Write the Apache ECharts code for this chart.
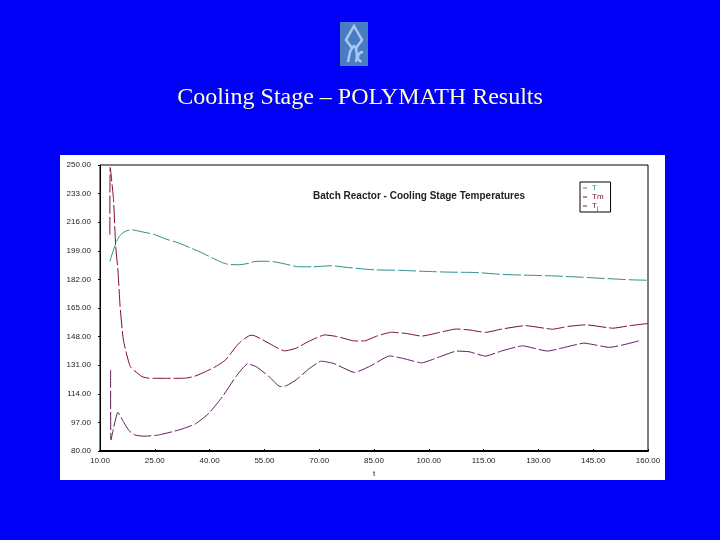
<!DOCTYPE html>
<html>
<head>
<meta charset="utf-8">
<script src="https://cdn.jsdelivr.net/npm/echarts@6/dist/echarts.min.js"></script>
<style>
html,body{margin:0;padding:0;background:#0000f6;}
#c{width:720px;height:540px;}
</style>
</head>
<body>
<div id="c"></div>
<script>
// ---- data ----
var xTicks = [10, 25, 40, 55, 70, 85, 100, 115, 130, 145, 160];
var yTicks = [80, 97, 114, 131, 148, 165, 182, 199, 216, 233, 250];

var tT = [12.7, 13.7, 15, 16.4, 18.5, 21, 25, 28, 31.6, 35, 38, 41, 44.4, 48, 50.5, 52.7, 55.5, 58.2, 61, 64.6, 68, 73.3, 78, 85.2, 92, 99.9, 106, 112.8, 118, 121.9, 127, 132.5, 140, 146, 151.3, 156, 160];
var T  = [192.7, 199.6, 206.6, 209.9, 211.5, 210.5, 208.6, 206, 203.6, 200.5, 197.7, 194.5, 191.3, 190.7, 191.5, 192.7, 192.8, 192.3, 191, 189.5, 189.5, 190.1, 189, 187.7, 187.4, 186.7, 186.3, 186.1, 185.3, 184.8, 184.5, 184.2, 183.5, 182.8, 182.2, 181.7, 181.5];

var tTm = [12.7, 12.8, 13.7, 14.3, 14.9, 15.5, 16.4, 18.3, 21.5, 23.3, 28, 33.4, 36, 38.9, 41.7, 44.4, 47.2, 48.5, 50.8, 51.8, 54.5, 57.5, 60.5, 63.7, 67, 71.5, 75, 79.7, 82.5, 86, 89.8, 94, 98, 103, 107.5, 111, 115.5, 120, 126.5, 133.9, 138, 143, 150.4, 155, 160];
var Tm  = [208.6, 248.5, 229.4, 201.6, 187.7, 165.9, 146, 130.2, 124.2, 123.3, 123.2, 123.3, 124.5, 127.2, 130.2, 134.2, 142, 145, 148.5, 148.8, 146.1, 142.5, 139.5, 141.1, 145, 149, 148, 145.4, 145.5, 148.5, 150.6, 149.8, 148.3, 150.5, 152.5, 152, 150.5, 152.5, 154.5, 152.4, 154, 155, 153, 154.5, 155.8];

var tTj = [12.9, 13.0, 14.9, 16.5, 18, 19.6, 22, 26, 31.6, 36.1, 39.8, 43.5, 47.2, 50.4, 52.7, 56.3, 59.3, 61, 63.7, 67, 70.6, 74, 79.7, 84, 89.3, 93, 98, 103, 107.7, 111, 115.5, 120, 125.6, 132.5, 137, 142.5, 149.5, 154, 157.7];
var Tj  = [128.2, 86.5, 103, 97, 92, 89.5, 88.8, 89.5, 92.5, 96.1, 102.4, 112.3, 124.2, 131.8, 130.2, 124.2, 118.3, 118.8, 122.3, 128.5, 133.4, 132, 126.7, 130.5, 136.5, 135, 132.4, 136, 139.4, 139, 136.4, 139.5, 142.5, 139.4, 141.5, 144.1, 141.6, 143.5, 145.6];

var seriesNames = ['T', 'Tm', 'Tj'];
var chartTitle = 'Batch Reactor - Cooling Stage Temperatures';
var pageTitle = 'Cooling Stage \u2013 POLYMATH Results';

function pairs(xs, ys) { return xs.map(function (x, i) { return [x, ys[i]]; }); }

var cT = '#2f8f8f', cTm = '#7a0a2a', cTj = '#5e1a5e';

var chart = echarts.init(document.getElementById('c'));
chart.setOption({
  backgroundColor: '#0000f6',
  animation: false,
  title: [
    { text: pageTitle, left: 'center', top: 81,
      textStyle: { fontFamily: 'Liberation Serif', fontWeight: 'normal', fontSize: 24, color: '#ffffc4' } },
    { text: chartTitle, left: 308, top: 186,
      textStyle: { fontFamily: 'Liberation Sans', fontWeight: 'bold', fontSize: 10, color: '#222' } }
  ],
  graphic: [
    { type: 'rect', z: -10, shape: { x: 60, y: 155, width: 605, height: 325 }, style: { fill: '#ffffff' } },
    { type: 'rect', z: 1, shape: { x: 340, y: 22, width: 28, height: 44 }, style: { fill: '#4a7cc4' } },
    { type: 'polygon', z: 2, shape: { points: [[354, 26], [362, 40], [356, 48], [354, 46], [352, 48], [346, 40]] },
      style: { fill: 'none', stroke: '#a8c8ee', lineWidth: 2.5 } },
    { type: 'polyline', z: 2, shape: { points: [[348, 62], [350, 52], [352, 48]] }, style: { stroke: '#a8c8ee', lineWidth: 2.5, fill: 'none' } },
    { type: 'polyline', z: 2, shape: { points: [[356, 48], [357, 56], [356, 62]] }, style: { stroke: '#a8c8ee', lineWidth: 2.5, fill: 'none' } },
    { type: 'arc', z: 2, shape: { cx: 363, cy: 57, r: 5, startAngle: Math.PI * 0.6, endAngle: Math.PI * 1.5 },
      style: { stroke: '#a8c8ee', lineWidth: 2.5, fill: 'none' } }
  ],
  legend: {
    orient: 'vertical', left: 580, top: 182,
    data: [
      { name: 'T', textStyle: { color: cT } },
      { name: 'Tm', textStyle: { color: cTm } },
      { name: 'Tj', textStyle: { color: cTj } }
    ],
    icon: 'rect', itemWidth: 4, itemHeight: 1, itemGap: 1,
    borderColor: '#000', borderWidth: 1, padding: [2, 7, 1, 3],
    textStyle: { fontFamily: 'Liberation Sans', fontSize: 8,
      rich: { s: { fontSize: 6, verticalAlign: 'bottom', padding: [4, 0, 0, 0] } } },
    formatter: function (n) { return n === 'Tj' ? 'T{s|j}' : n; }
  },
  grid: { left: 100, right: 72, top: 165, bottom: 89, show: true, borderColor: '#000', borderWidth: 1, backgroundColor: 'transparent' },
  xAxis: {
    type: 'value', min: xTicks[0], max: xTicks[xTicks.length - 1], interval: 15,
    name: 't', nameLocation: 'middle', nameGap: 18,
    nameTextStyle: { fontFamily: 'Liberation Sans', fontSize: 8, color: '#222' },
    axisLine: { lineStyle: { color: '#000', width: 2 } },
    axisTick: { inside: true, length: 2, lineStyle: { color: '#000' } },
    splitLine: { show: false },
    axisLabel: { fontFamily: 'Liberation Sans', fontSize: 8, color: '#222', margin: 6,
      formatter: function (v) { return v.toFixed(2); } }
  },
  yAxis: {
    type: 'value', min: yTicks[0], max: yTicks[yTicks.length - 1], interval: 17,
    axisLine: { show: true, lineStyle: { color: '#000', width: 1 } },
    axisTick: { show: true, length: 2, lineStyle: { color: '#000' } },
    splitLine: { show: false },
    axisLabel: { fontFamily: 'Liberation Sans', fontSize: 8, color: '#222', margin: 9,
      formatter: function (v) { return v.toFixed(2); } }
  },
  series: [
    { name: 'T', type: 'line', data: pairs(tT, T), showSymbol: false, smooth: 0.3, color: cT,
      lineStyle: { width: 1, color: cT, type: [18, 3] } },
    { name: 'Tm', type: 'line', data: pairs(tTm, Tm), showSymbol: false, smooth: 0.15, color: cTm,
      lineStyle: { width: 1, color: cTm, type: [18, 3] } },
    { name: 'Tj', type: 'line', data: pairs(tTj, Tj), showSymbol: false, smooth: 0.15, color: cTj,
      lineStyle: { width: 1, color: cTj, type: [18, 3] } }
  ]
});
</script>
</body>
</html>
